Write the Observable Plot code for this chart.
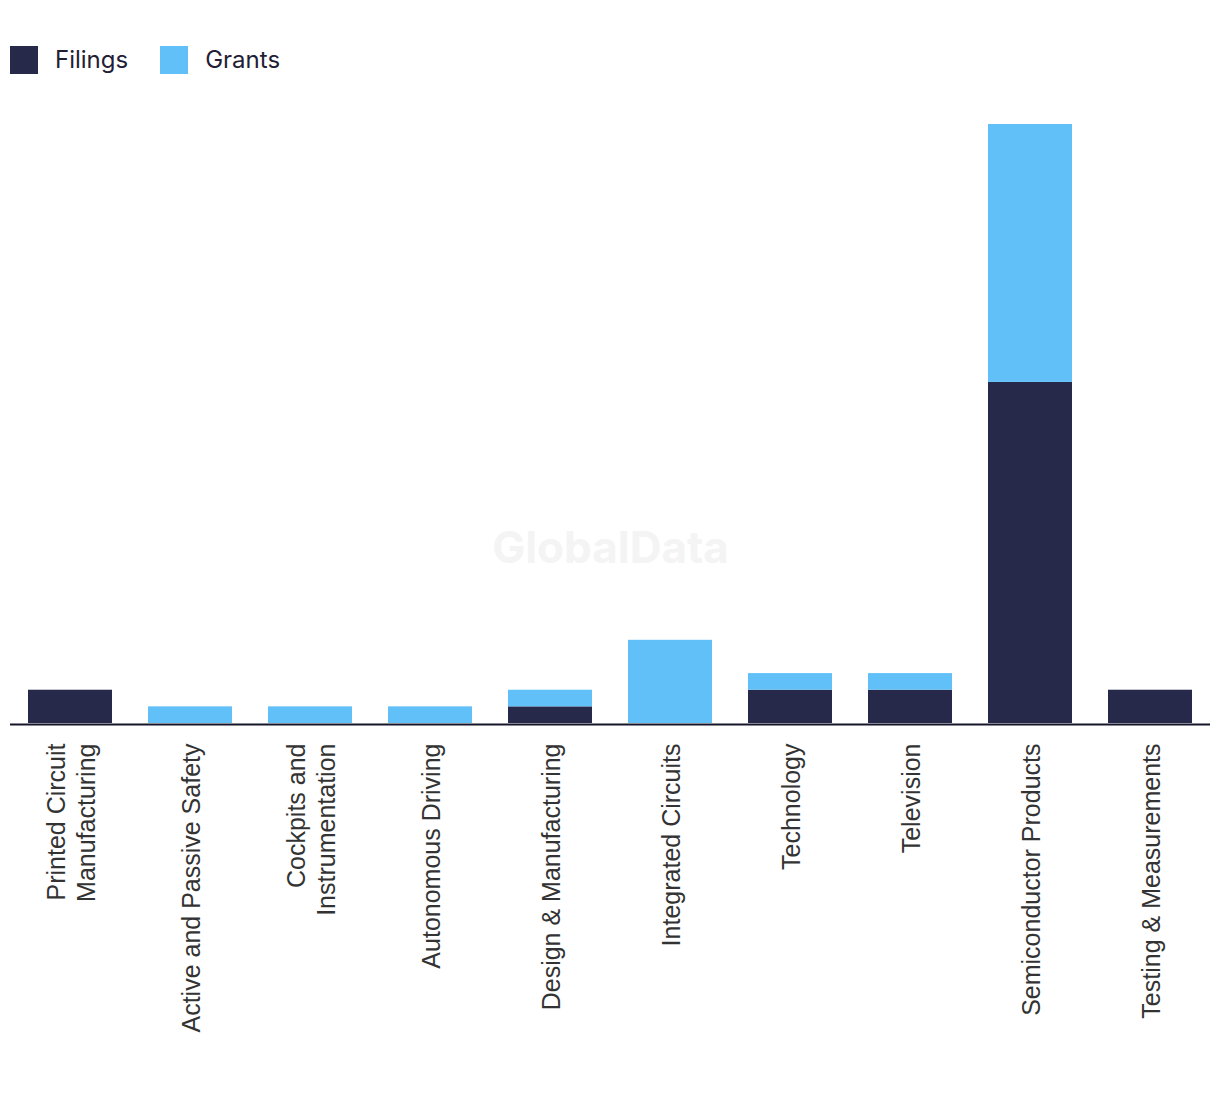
<!DOCTYPE html>
<html>
<head>
<meta charset="utf-8">
<script src="https://cdn.jsdelivr.net/npm/d3@7"></script>
<script src="https://cdn.jsdelivr.net/npm/@observablehq/plot@0.6"></script>
<style>
  html, body { margin: 0; padding: 0; background: #fff; }
  #wrap { position: relative; width: 1220px; height: 1094px; }
  #legend { position: absolute; left: 10px; top: 45px; display: flex; align-items: center;
            font-family: Inter, "Noto Sans", sans-serif; font-size: 24px; color: #1f2035; }
  .item { display: flex; align-items: center; }
  .item + .item { margin-left: 32px; }
  .sw { width: 28px; height: 28px; margin-right: 17px; }
</style>
</head>
<body>
<div id="wrap">
  <div id="chart"></div>
  <div id="legend"></div>
</div>
<script>
const categories = [
  "Printed Circuit Manufacturing",
  "Active and Passive Safety",
  "Cockpits and Instrumentation",
  "Autonomous Driving",
  "Design & Manufacturing",
  "Integrated Circuits",
  "Technology",
  "Television",
  "Semiconductor Products",
  "Testing & Measurements"
];
const tickLabels = [
  "Printed Circuit\nManufacturing",
  "Active and Passive Safety",
  "Cockpits and\nInstrumentation",
  "Autonomous Driving",
  "Design & Manufacturing",
  "Integrated Circuits",
  "Technology",
  "Television",
  "Semiconductor Products",
  "Testing & Measurements"
];
const seriesNames = ["Filings", "Grants"];
const filings = [2, 0, 0, 0, 1, 0, 2, 2, 20.5, 2];
const grants  = [0, 1, 1, 1, 1, 5, 1, 1, 15.5, 0];
const colors = ["#27294b", "#62c0f9"];

const rows = [];
categories.forEach((c, i) => {
  rows.push({category: c, series: "Filings", value: filings[i]});
  rows.push({category: c, series: "Grants", value: grants[i]});
});
const labelOf = new Map(categories.map((c, i) => [c, tickLabels[i]]));

const chart = Plot.plot({
  width: 1220,
  height: 1094,
  marginTop: 124,
  marginBottom: 371,
  marginLeft: 10,
  marginRight: 10,
  style: {fontFamily: "'Liberation Sans', Arial, sans-serif", background: "#fff"},
  x: {domain: categories, paddingInner: 0.3, paddingOuter: 0.15, axis: null},
  y: {domain: [0, 36], axis: null},
  color: {domain: seriesNames, range: colors},
  marks: [
    Plot.text(["GlobalData"], {frameAnchor: "middle", dy: 125, fontSize: 44, fontWeight: "bold",
      fill: "#f4f4f4", fontFamily: "Inter, 'Noto Sans', sans-serif"}),
    Plot.barY(rows, {x: "category", y: "value", fill: "series", order: seriesNames}),
    Plot.ruleY([0], {stroke: "#14142a", strokeWidth: 2, dy: 1}),
    Plot.axisX({tickRotate: -90, tickSize: 0, tickPadding: 20, fontSize: 25, lineHeight: 1.2,
      tickFormat: d => labelOf.get(d), fill: "#333", label: null})
  ]
});
document.getElementById("chart").appendChild(chart);

const legend = document.getElementById("legend");
seriesNames.forEach((s, i) => {
  const it = document.createElement("div");
  it.className = "item";
  const sw = document.createElement("div");
  sw.className = "sw";
  sw.style.background = colors[i];
  const t = document.createElement("span");
  t.textContent = s;
  it.appendChild(sw); it.appendChild(t);
  legend.appendChild(it);
});
</script>
</body>
</html>
